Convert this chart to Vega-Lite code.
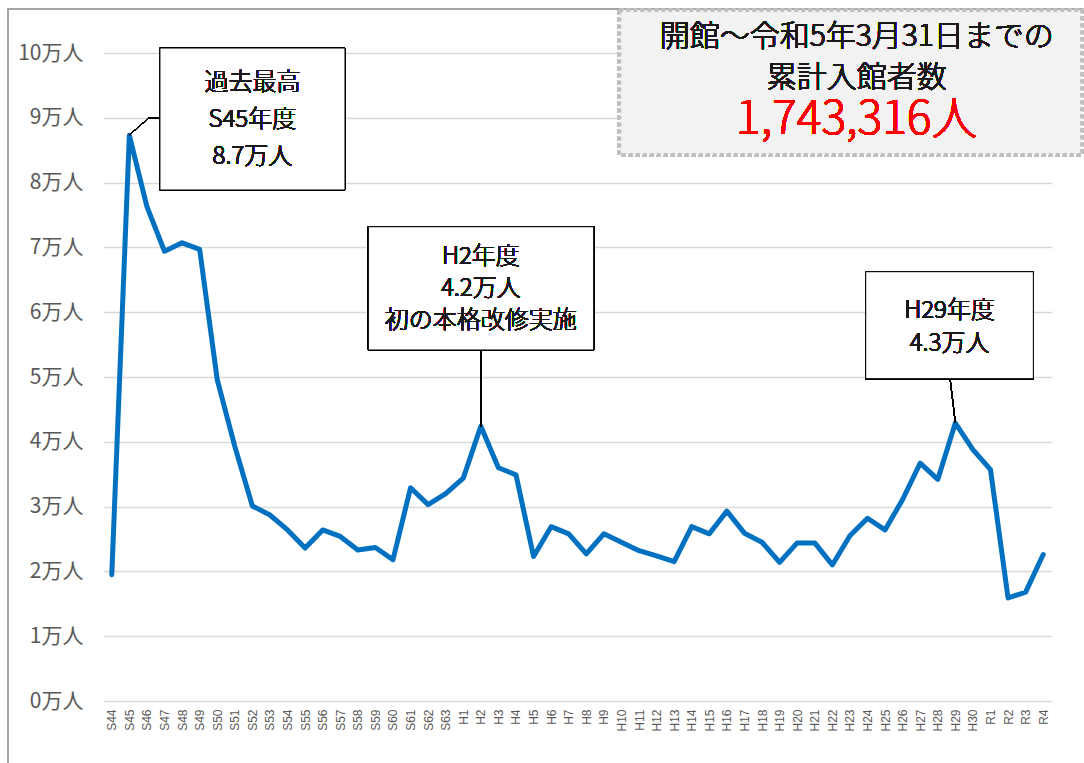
{
  "$schema": "https://vega.github.io/schema/vega-lite/v6.json",
  "autosize": "none",
  "width": 949,
  "height": 648,
  "padding": {"left": 103, "top": 53, "right": 32, "bottom": 62},
  "background": "white",
  "config": {
    "view": {"stroke": null},
    "font": "Noto Sans CJK JP"
  },
  "datasets": {
    "visitors": [
      {"year": 1969, "fy": "S44", "visitors": 19500},
      {"year": 1970, "fy": "S45", "visitors": 87300},
      {"year": 1971, "fy": "S46", "visitors": 76300},
      {"year": 1972, "fy": "S47", "visitors": 69400},
      {"year": 1973, "fy": "S48", "visitors": 70700},
      {"year": 1974, "fy": "S49", "visitors": 69700},
      {"year": 1975, "fy": "S50", "visitors": 49600},
      {"year": 1976, "fy": "S51", "visitors": 39300},
      {"year": 1977, "fy": "S52", "visitors": 30100},
      {"year": 1978, "fy": "S53", "visitors": 28700},
      {"year": 1979, "fy": "S54", "visitors": 26400},
      {"year": 1980, "fy": "S55", "visitors": 23600},
      {"year": 1981, "fy": "S56", "visitors": 26400},
      {"year": 1982, "fy": "S57", "visitors": 25400},
      {"year": 1983, "fy": "S58", "visitors": 23300},
      {"year": 1984, "fy": "S59", "visitors": 23700},
      {"year": 1985, "fy": "S60", "visitors": 21800},
      {"year": 1986, "fy": "S61", "visitors": 32900},
      {"year": 1987, "fy": "S62", "visitors": 30300},
      {"year": 1988, "fy": "S63", "visitors": 32000},
      {"year": 1989, "fy": "H1", "visitors": 34400},
      {"year": 1990, "fy": "H2", "visitors": 42400},
      {"year": 1991, "fy": "H3", "visitors": 36000},
      {"year": 1992, "fy": "H4", "visitors": 34900},
      {"year": 1993, "fy": "H5", "visitors": 22300},
      {"year": 1994, "fy": "H6", "visitors": 26900},
      {"year": 1995, "fy": "H7", "visitors": 25800},
      {"year": 1996, "fy": "H8", "visitors": 22700},
      {"year": 1997, "fy": "H9", "visitors": 25800},
      {"year": 1998, "fy": "H10", "visitors": 24500},
      {"year": 1999, "fy": "H11", "visitors": 23200},
      {"year": 2000, "fy": "H12", "visitors": 22400},
      {"year": 2001, "fy": "H13", "visitors": 21500},
      {"year": 2002, "fy": "H14", "visitors": 26900},
      {"year": 2003, "fy": "H15", "visitors": 25800},
      {"year": 2004, "fy": "H16", "visitors": 29300},
      {"year": 2005, "fy": "H17", "visitors": 25900},
      {"year": 2006, "fy": "H18", "visitors": 24500},
      {"year": 2007, "fy": "H19", "visitors": 21400},
      {"year": 2008, "fy": "H20", "visitors": 24400},
      {"year": 2009, "fy": "H21", "visitors": 24400},
      {"year": 2010, "fy": "H22", "visitors": 21000},
      {"year": 2011, "fy": "H23", "visitors": 25500},
      {"year": 2012, "fy": "H24", "visitors": 28200},
      {"year": 2013, "fy": "H25", "visitors": 26400},
      {"year": 2014, "fy": "H26", "visitors": 31100},
      {"year": 2015, "fy": "H27", "visitors": 36700},
      {"year": 2016, "fy": "H28", "visitors": 34200},
      {"year": 2017, "fy": "H29", "visitors": 42900},
      {"year": 2018, "fy": "H30", "visitors": 38800},
      {"year": 2019, "fy": "R1", "visitors": 35700},
      {"year": 2020, "fy": "R2", "visitors": 15900},
      {"year": 2021, "fy": "R3", "visitors": 16800},
      {"year": 2022, "fy": "R4", "visitors": 22600}
    ]
  },
  "data": {"name": "visitors"},
  "encoding": {
    "x": {
      "field": "year",
      "type": "quantitative",
      "scale": {"domain": [1968.5, 2022.5], "nice": false, "zero": false},
      "axis": {
        "title": null,
        "grid": false,
        "domain": false,
        "ticks": false,
        "values": [1969,1970,1971,1972,1973,1974,1975,1976,1977,1978,1979,1980,1981,1982,1983,1984,1985,1986,1987,1988,1989,1990,1991,1992,1993,1994,1995,1996,1997,1998,1999,2000,2001,2002,2003,2004,2005,2006,2007,2008,2009,2010,2011,2012,2013,2014,2015,2016,2017,2018,2019,2020,2021,2022],
        "labelExpr": "datum.value < 1989 ? 'S' + (datum.value - 1925) : (datum.value < 2019 ? 'H' + (datum.value - 1988) : 'R' + (datum.value - 2018))",
        "labelAngle": 270,
        "labelAlign": "right",
        "labelBaseline": "middle",
        "labelFont": "Liberation Sans",
        "labelFontSize": 12,
        "labelColor": "#595959",
        "labelPadding": 8,
        "labelOverlap": false,
        "labelFlush": false
      }
    },
    "y": {
      "field": "visitors",
      "type": "quantitative",
      "scale": {"domain": [0, 100000], "nice": false},
      "axis": {
        "title": null,
        "values": [0,10000,20000,30000,40000,50000,60000,70000,80000,90000,100000],
        "labelExpr": "(datum.value / 10000) + '万人'",
        "domain": false,
        "ticks": false,
        "gridColor": "#d9d9d9",
        "gridWidth": 1.5,
        "labelFont": "Noto Sans CJK JP",
        "labelFontSize": 21,
        "labelColor": "#595959",
        "labelPadding": 20
      }
    }
  },
  "layer": [
    {
      "mark": {"type": "rule", "color": "#a6a6a6", "strokeWidth": 1.5},
      "encoding": {
        "x": {"datum": 1963.09},
        "x2": {"datum": 2024.4},
        "y": {"datum": 106790}
      }
    },
    {
      "mark": {"type": "rule", "color": "#a6a6a6", "strokeWidth": 1.5},
      "encoding": {
        "x": {"datum": 1963.09},
        "y": {"datum": 106790},
        "y2": {"datum": -9600}
      }
    },
    {
      "mark": {"type": "rect", "fill": "#f2f2f2", "stroke": "#bfbfbf", "strokeWidth": 4, "strokeDash": [4, 3]},
      "encoding": {
        "x": {"datum": 1997.88},
        "x2": {"datum": 2024.21},
        "y": {"datum": 106640},
        "y2": {"datum": 84260}
      }
    },
    {
      "mark": {"type": "line", "color": "#0070c0", "strokeWidth": 5, "strokeJoin": "round", "strokeCap": "round"}
    },
    {
      "mark": {"type": "rule", "color": "#000000", "strokeWidth": 1},
      "encoding": {
        "x": {"datum": 1970.0},
        "y": {"datum": 87350},
        "x2": {"datum": 1971.08},
        "y2": {"datum": 89920}
      }
    },
    {
      "mark": {"type": "rule", "color": "#000000", "strokeWidth": 1},
      "encoding": {
        "x": {"datum": 1971.08},
        "x2": {"datum": 1971.74},
        "y": {"datum": 89920}
      }
    },
    {
      "mark": {"type": "rule", "color": "#000000", "strokeWidth": 1},
      "encoding": {
        "x": {"datum": 1990},
        "y": {"datum": 54170},
        "y2": {"datum": 42400}
      }
    },
    {
      "mark": {"type": "rule", "color": "#000000", "strokeWidth": 1},
      "encoding": {
        "x": {"datum": 2016.7},
        "y": {"datum": 49740},
        "x2": {"datum": 2017.0},
        "y2": {"datum": 42950}
      }
    },
    {
      "mark": {"type": "rect", "fill": "white", "stroke": "#000000", "strokeWidth": 1},
      "encoding": {
        "x": {"datum": 1971.74},
        "x2": {"datum": 1982.27},
        "y": {"datum": 100770},
        "y2": {"datum": 78860}
      }
    },
    {
      "mark": {"type": "rect", "fill": "white", "stroke": "#000000", "strokeWidth": 1},
      "encoding": {
        "x": {"datum": 1983.6},
        "x2": {"datum": 1996.42},
        "y": {"datum": 73190},
        "y2": {"datum": 54170}
      }
    },
    {
      "mark": {"type": "rect", "fill": "white", "stroke": "#000000", "strokeWidth": 1},
      "encoding": {
        "x": {"datum": 2011.9},
        "x2": {"datum": 2021.44},
        "y": {"datum": 66250},
        "y2": {"datum": 49740}
      }
    },
    {
      "mark": {"type": "text", "text": ["過去最高", "S45年度", "8.7万人"], "lineHeight": 37, "fontSize": 24, "fontWeight": 300, "font": "Noto Sans CJK JP", "color": "#1a1a1a", "align": "center", "baseline": "middle"},
      "encoding": {
        "x": {"datum": 1977},
        "y": {"datum": 95370}
      }
    },
    {
      "mark": {"type": "text", "text": ["H2年度", "4.2万人", "初の本格改修実施"], "lineHeight": 32, "fontSize": 24, "fontWeight": 300, "font": "Noto Sans CJK JP", "color": "#1a1a1a", "align": "center", "baseline": "middle"},
      "encoding": {
        "x": {"datum": 1990},
        "y": {"datum": 68570}
      }
    },
    {
      "mark": {"type": "text", "text": ["H29年度", "4.3万人"], "lineHeight": 33, "fontSize": 24, "fontWeight": 300, "font": "Noto Sans CJK JP", "color": "#1a1a1a", "align": "center", "baseline": "middle"},
      "encoding": {
        "x": {"datum": 2016.67},
        "y": {"datum": 60190}
      }
    },
    {
      "mark": {"type": "text", "text": ["開館～令和5年3月31日までの", "累計入館者数"], "lineHeight": 41, "fontSize": 30, "fontWeight": 300, "font": "Noto Sans CJK JP", "color": "#1a1a1a", "align": "center", "baseline": "middle"},
      "encoding": {
        "x": {"datum": 2011.39},
        "y": {"datum": 102520}
      }
    },
    {
      "mark": {"type": "text", "text": "1,743,316人", "fontSize": 46, "fontWeight": 300, "font": "Noto Sans CJK JP", "color": "#ff0000", "align": "center", "baseline": "middle"},
      "encoding": {
        "x": {"datum": 2011.39},
        "y": {"datum": 89660}
      }
    }
  ]
}
